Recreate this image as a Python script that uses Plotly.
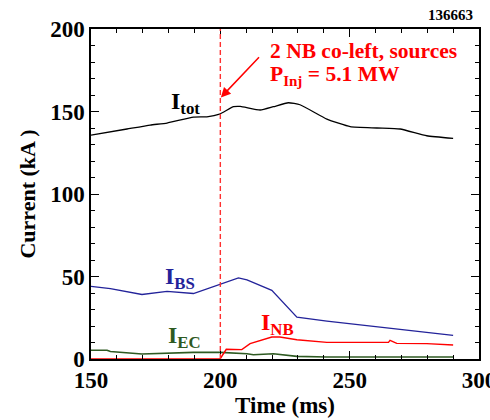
import plotly.graph_objects as go

# Data
t_tot = [150, 163.9, 172.9, 179.4, 189.6, 194.8, 199.7, 205.1, 207.7, 215.4, 220.5, 226.3, 230.8, 241.2, 250.2, 260.5, 269.5, 279.8, 290]
i_tot = [135.7, 139.4, 141.8, 143.0, 146.6, 146.8, 148.4, 152.9, 153.1, 150.9, 152.9, 155.3, 154.1, 145.4, 140.8, 140.0, 139.4, 135.3, 133.7]

t_bs = [150, 157.5, 169.7, 179.4, 189.6, 194.8, 199.9, 207.0, 210.3, 219.9, 229.6, 241.2, 266.9, 290]
i_bs = [44.0, 42.6, 39.1, 41.0, 39.7, 42.6, 45.6, 49.2, 48.0, 41.6, 25.4, 23.0, 18.4, 14.3]

t_nb = [150, 199.9, 202.3, 208.3, 211.5, 219.9, 223.0, 229.6, 241.2, 265.0, 265.6, 268.2, 279.8, 290]
i_nb = [0, 0, 5.9, 5.7, 9.3, 13.3, 13.3, 11.7, 10.1, 10.1, 11.3, 9.5, 9.3, 8.5]

t_ec = [150, 156.2, 157.5, 169.7, 189.6, 199.9, 210.3, 212.8, 220.5, 229.6, 241.2, 290]
i_ec = [5.3, 5.3, 4.5, 3.0, 4.0, 4.0, 3.2, 2.6, 3.2, 1.6, 1.2, 1.2]

x_ticks = [150, 200, 250, 300]
y_ticks = [0, 50, 100, 150, 200]

FONT = "Liberation Serif"
BLUE = "#23239a"
GREEN = "#2e5a22"

fig = go.Figure()
fig.add_trace(go.Scatter(x=t_tot, y=i_tot, mode="lines", line=dict(color="black", width=1.3, shape="spline", smoothing=0.45)))
fig.add_trace(go.Scatter(x=t_bs, y=i_bs, mode="lines", line=dict(color=BLUE, width=1.3)))
fig.add_trace(go.Scatter(x=t_ec, y=i_ec, mode="lines", line=dict(color=GREEN, width=1.6)))
fig.add_trace(go.Scatter(x=t_nb, y=i_nb, mode="lines", line=dict(color="#ff0000", width=1.4)))

fig.add_shape(type="line", x0=200, x1=200, y0=0, y1=200, xref="x", yref="y",
              line=dict(color="#ff3030", width=1.4, dash="5px,3px"))

lab_font = dict(family=FONT, size=24, weight="bold")
fig.add_annotation(x=186.5, y=155, text="I<sub>tot</sub>", showarrow=False, font=dict(lab_font, color="black"))
fig.add_annotation(x=184.5, y=49, text="I<sub>BS</sub>", showarrow=False, font=dict(lab_font, color=BLUE))
fig.add_annotation(x=222, y=21.5, text="I<sub>NB</sub>", showarrow=False, font=dict(lab_font, color="#ff0000"))
fig.add_annotation(x=186, y=13.3, text="I<sub>EC</sub>", showarrow=False, font=dict(lab_font, color=GREEN))

red_font = dict(family=FONT, size=21.5, weight="bold", color="#ff0000")
fig.add_annotation(x=218.6, y=186.5, text="2 NB co-left, sources", showarrow=False, xanchor="left", font=red_font)
fig.add_annotation(x=218.6, y=172, text="P<sub>Inj</sub> = 5.1 MW", showarrow=False, xanchor="left", font=red_font)
fig.add_annotation(x=200.2, y=158.5, ax=215.5, ay=183.8, axref="x", ayref="y", text="", showarrow=True,
                   arrowhead=2, arrowsize=1.3, arrowwidth=1.5, arrowcolor="#ff0000")

fig.add_annotation(x=1, y=1, xref="paper", yref="paper", xanchor="right", yanchor="bottom", yshift=4, xshift=-4,
                   text="136663", showarrow=False, font=dict(family=FONT, size=15, weight="bold", color="black"))

axis_common = dict(showgrid=False, zeroline=False, showline=True, linecolor="black", linewidth=1.5,
                   mirror="ticks", ticks="inside", ticklen=8, tickwidth=1.2, tickcolor="black",
                   ticklabeloverflow="allow", automargin=False,
                   tickfont=dict(family=FONT, size=23, weight="bold", color="black"),
                   minor=dict(ticks="inside", ticklen=4, tickwidth=1, tickcolor="black", dtick=10))

fig.update_xaxes(range=[150, 300], tickvals=x_ticks, ticktext=[str(v) for v in x_ticks],
                 title=dict(text="Time (ms)", font=dict(family=FONT, size=23, weight="bold", color="black"), standoff=0),
                 **axis_common)
fig.update_yaxes(range=[0, 200], tickvals=y_ticks, ticktext=[str(v) for v in y_ticks],
                 title=dict(text="Current (kA )", font=dict(family=FONT, size=22, weight="bold", color="black"), standoff=8),
                 layer="below traces", **axis_common)

fig.update_layout(width=490, height=420, margin=dict(l=91, r=11, t=29, b=61),
                  plot_bgcolor="white", paper_bgcolor="white", showlegend=False)

fig.write_html("out.html")
